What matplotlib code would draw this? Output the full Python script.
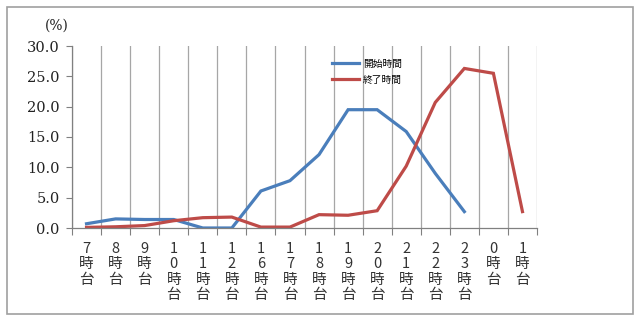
import matplotlib
matplotlib.use('Agg')
import matplotlib.pyplot as plt
from matplotlib.patches import Rectangle

# categories (hour bands) and the two series in %
hours = ['7', '8', '9', '10', '11', '12', '16', '17', '18', '19', '20', '21', '22', '23', '0', '1']
start_time = [0.7, 1.5, 1.4, 1.4, 0.0, 0.0, 6.1, 7.8, 12.1, 19.5, 19.5, 15.9, 9.0, 2.7]
end_time = [0.1, 0.2, 0.4, 1.2, 1.7, 1.8, 0.15, 0.15, 2.2, 2.1, 2.85, 10.2, 20.7, 26.3, 25.5, 2.7]
yticks = [0.0, 5.0, 10.0, 15.0, 20.0, 25.0, 30.0]

jp = ['Noto Sans CJK JP', 'DejaVu Sans']
serif = ['DejaVu Serif']

fig = plt.figure(figsize=(6.4, 3.2), dpi=100)
ax = fig.add_axes([72 / 640, 1 - 228 / 320, 465 / 640, 182 / 320])

xs = [i + 0.5 for i in range(len(hours))]
ax.plot(xs[:len(start_time)], start_time, color='#4A7EBB', lw=2.3, label='開始時間', solid_joinstyle='miter')
ax.plot(xs, end_time, color='#BE4B48', lw=2.3, label='終了時間', solid_joinstyle='miter')

ax.set_xlim(0, len(hours))
ax.set_ylim(0, 30)

# boundaries -> ticks + grid, centers -> labels
ax.set_xticks(range(len(hours) + 1))
ax.set_xticklabels([])
ax.set_xticks(xs, minor=True)
labels = ['\n'.join(list(h) + ['時', '台']) for h in hours]
ax.set_xticklabels(labels, minor=True, family=jp, fontsize=10.5, linespacing=1.12, va='top')
ax.tick_params(axis='x', which='major', length=5, color='#808080', direction='out')
ax.tick_params(axis='x', which='minor', length=0, pad=10, colors='#333333')
ax.grid(axis='x', which='major', color='#A6A6A6', lw=0.9)

ax.set_yticks(yticks)
ax.set_yticklabels(['%.1f' % v for v in yticks], family=serif, fontsize=10.5, color='#222222')
ax.tick_params(axis='y', length=4, color='#808080', pad=5)

for s in ['top', 'right']:
    ax.spines[s].set_visible(False)
for s in ['left', 'bottom']:
    ax.spines[s].set_color('#808080')
    ax.spines[s].set_linewidth(0.9)

fig.text(57 / 640, 1 - 26 / 320, '(%)', family=serif, fontsize=10, ha='center', va='center', color='#222222')

ax.legend(loc='upper left', bbox_to_anchor=(327 / 640, 1 - 54 / 320), bbox_transform=fig.transFigure,
          frameon=False, prop={'family': jp, 'size': 7}, handlelength=2.8, handletextpad=0.4,
          labelspacing=0.6, borderpad=0)

# outer frame
fig.patches.append(Rectangle((7 / 640, 6 / 320), 626 / 640, 307 / 320, transform=fig.transFigure,
                             fill=False, edgecolor='#A0A0A0', lw=1.2))

fig.savefig('out.png', dpi=100)
